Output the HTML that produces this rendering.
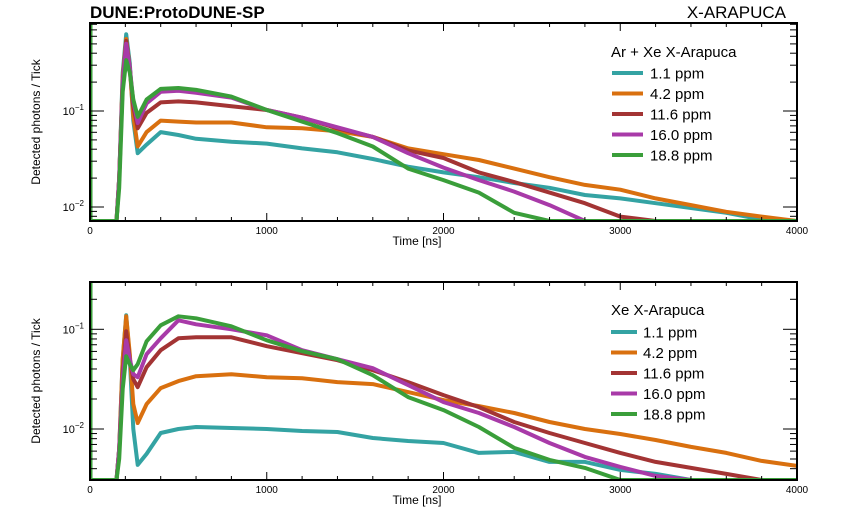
<!DOCTYPE html>
<html><head><meta charset="utf-8"><style>
body{margin:0;background:#fff;width:847px;height:517px;overflow:hidden}
svg{font-family:"Liberation Sans",sans-serif}
</style></head><body>
<svg id="c" width="847" height="517" viewBox="0 0 847 517"></svg>
<script>
const times = [0,150,165,185,205,225,245,270,320,400,500,600,800,1000,1200,1400,1600,1800,2000,2200,2400,2600,2800,3000,3200,3400,3600,3800,4000];
const seriesNames = ["1.1 ppm","4.2 ppm","11.6 ppm","16.0 ppm","18.8 ppm"];
const colors = ["#34a3a3","#d9700f","#a33434","#a83aa8","#3a9e3a"];
// log10 values, top panel (Ar + Xe)
const topTeal    = [-3,-3,-1.7,-0.6,-0.2,-0.5,-1.1,-1.44,-1.35,-1.22,-1.25,-1.29,-1.32,-1.34,-1.39,-1.43,-1.50,-1.58,-1.64,-1.69,-1.75,-1.80,-1.875,-1.91,-1.96,-2.01,-2.06,-2.13,-2.2];
const topOrange  = [-3,-3,-1.7,-0.65,-0.25,-0.55,-1.05,-1.37,-1.22,-1.10,-1.11,-1.12,-1.12,-1.17,-1.18,-1.21,-1.27,-1.39,-1.45,-1.51,-1.60,-1.69,-1.77,-1.82,-1.91,-1.98,-2.05,-2.10,-2.15];
const topBrown   = [-3,-3,-1.7,-0.7,-0.27,-0.55,-0.95,-1.18,-1.02,-0.91,-0.90,-0.91,-0.95,-0.99,-1.07,-1.18,-1.27,-1.41,-1.49,-1.64,-1.74,-1.85,-1.96,-2.10,-2.2,-2.3,-2.4,-2.5,-2.6];
const topMagenta = [-3,-3,-1.7,-0.7,-0.3,-0.55,-0.9,-1.125,-0.92,-0.80,-0.79,-0.81,-0.86,-0.99,-1.07,-1.17,-1.27,-1.44,-1.59,-1.72,-1.84,-1.98,-2.2,-2.4,-2.5,-2.6,-2.7,-2.8,-2.9];
const topGreen   = [-3,-3,-1.8,-0.8,-0.47,-0.6,-0.88,-1.06,-0.88,-0.77,-0.76,-0.78,-0.85,-0.99,-1.11,-1.23,-1.37,-1.60,-1.72,-1.85,-2.06,-2.3,-2.4,-2.5,-2.6,-2.7,-2.8,-2.9,-3];
// log10 values, bottom panel (Xe)
const botTeal    = [-3,-3,-2.2,-1.3,-0.86,-1.3,-2.0,-2.36,-2.25,-2.04,-2.00,-1.98,-1.99,-2.00,-2.02,-2.03,-2.09,-2.12,-2.14,-2.24,-2.23,-2.33,-2.33,-2.41,-2.45,-2.6,-2.7,-2.8,-2.9];
const botOrange  = [-3,-3,-2.2,-1.3,-0.87,-1.25,-1.75,-1.94,-1.75,-1.59,-1.52,-1.47,-1.45,-1.48,-1.49,-1.53,-1.55,-1.63,-1.71,-1.77,-1.84,-1.93,-2.00,-2.05,-2.11,-2.18,-2.24,-2.32,-2.37];
const botBrown   = [-3,-3,-2.2,-1.45,-1.02,-1.3,-1.5,-1.58,-1.38,-1.21,-1.09,-1.08,-1.08,-1.17,-1.24,-1.31,-1.41,-1.53,-1.66,-1.78,-1.93,-2.04,-2.14,-2.24,-2.33,-2.39,-2.45,-2.6,-2.7];
const botMagenta = [-3,-3,-2.2,-1.5,-1.11,-1.3,-1.45,-1.48,-1.25,-1.09,-0.91,-0.95,-1.00,-1.06,-1.21,-1.30,-1.39,-1.56,-1.73,-1.84,-1.98,-2.14,-2.28,-2.38,-2.47,-2.6,-2.7,-2.8,-2.9];
const botGreen   = [-3,-3,-2.3,-1.6,-1.27,-1.35,-1.41,-1.35,-1.12,-0.96,-0.87,-0.89,-0.97,-1.11,-1.22,-1.30,-1.46,-1.68,-1.81,-1.98,-2.19,-2.31,-2.39,-2.6,-2.7,-2.8,-2.9,-3,-3];
const xTicks = [0,1000,2000,3000,4000];
const legendTitles = ["Ar + Xe X-Arapuca","Xe X-Arapuca"];

const NS="http://www.w3.org/2000/svg";
const svg=document.getElementById('c');
function mk(tag,attrs,parent){const e=document.createElementNS(NS,tag);for(const k in attrs)e.setAttribute(k,attrs[k]);(parent||svg).appendChild(e);return e;}

const X0=90,X1=797;
function xs(t){return X0+(X1-X0)*t/4000;}

const panels=[
 {top:23,bot:221,yref:111,dec:96,data:[topTeal,topOrange,topBrown,topMagenta,topGreen],name:"top-panel",leg:{x:611,ty:57,y0:73,lx0:612,lx1:643,tx:650}},
 {top:282,bot:480,yref:329.3,dec:99.7,data:[botTeal,botOrange,botBrown,botMagenta,botGreen],name:"bottom-panel",leg:{x:611,ty:315,y0:332,lx0:611,lx1:637,tx:643}}
];

panels.forEach((p,pi)=>{
  const g=mk('g',{});
  
  
  const ys=lv=>Math.min(p.bot,Math.max(p.top,p.yref-p.dec*(lv+1)));
  const clip=mk('clipPath',{id:'clip'+pi},g);
  mk('rect',{x:X0,y:p.top,width:X1-X0,height:p.bot-p.top},clip);
  p.data.forEach((arr,si)=>{
    const pts=arr.map((v,i)=>xs(times[i]).toFixed(1)+','+ys(v).toFixed(1)).join(' ');
    const pl=mk('polyline',{points:pts,fill:'none',stroke:colors[si],'stroke-width':4,'stroke-linejoin':'round','clip-path':'url(#clip'+pi+')'},g);
    
    
  });
  mk('line',{x1:X0+1,y1:p.top,x2:X0+1,y2:p.bot,stroke:colors[4],'stroke-width':3},g);
  const fr=mk('rect',{x:X0,y:p.top,width:X1-X0,height:p.bot-p.top,fill:'none',stroke:'#000','stroke-width':2},g);
  
  
  for(let t=0;t<=4000;t+=200){
    const len=t%1000===0?8:4;const x=xs(t);
    mk('line',{x1:x,y1:p.bot,x2:x,y2:p.bot-len,stroke:'#000','stroke-width':1},g);
    mk('line',{x1:x,y1:p.top,x2:x,y2:p.top+len,stroke:'#000','stroke-width':1},g);
  }
  xTicks.forEach(t=>{
    const tx=mk('text',{x:xs(t),y:p.bot+13,'font-size':10,'text-anchor':'middle'},g);
    tx.textContent=t;
    
    
  });
  const xt=mk('text',{x:417,y:p.bot+24,'font-size':12,'text-anchor':'middle'},g);
  xt.textContent='Time [ns]';
  
  
  for(let d=-3;d<=0;d++){
    for(let m=1;m<=9;m++){
      const lv=d+Math.log10(m);const y=p.yref-p.dec*(lv+1);
      if(y<p.top||y>p.bot)continue;
      const len=m===1?14:7;
      mk('line',{x1:X0,y1:y,x2:X0+len,y2:y,stroke:'#000','stroke-width':1},g);
      mk('line',{x1:X1,y1:y,x2:X1-len,y2:y,stroke:'#000','stroke-width':1},g);
      if(m===1){
        const tl=mk('text',{x:X0-6,y:y+4,'font-size':11,'text-anchor':'end'},g);
        tl.textContent='10';
        const sp=mk('tspan',{dy:-5,'font-size':8},tl);sp.textContent='\u2212'+(-d);
        
        
      }
    }
  }
  const cy=(p.top+p.bot)/2;
  const yt=mk('text',{x:40,y:cy,'font-size':12,'text-anchor':'middle',transform:'rotate(-90 40 '+cy+')'},g);
  yt.textContent='Detected photons / Tick';
  
  
  const lg=mk('g',{},g);
  
  
  const lt=mk('text',{x:p.leg.x,y:p.leg.ty,'font-size':15},lg);
  lt.textContent=legendTitles[pi];
  seriesNames.forEach((n,si)=>{
    const y=p.leg.y0+si*20.5;
    const e=mk('g',{},lg);
    
    
    mk('line',{x1:p.leg.lx0,y1:y,x2:p.leg.lx1,y2:y,stroke:colors[si],'stroke-width':4},e);
    const t=mk('text',{x:p.leg.tx,y:y+5.5,'font-size':15},e);t.textContent=n;
  });
});
const t1=mk('text',{x:90,y:18,'font-size':17,'font-weight':'bold'});
t1.textContent='DUNE:ProtoDUNE-SP';


const t2=mk('text',{x:786,y:18,'font-size':17,'text-anchor':'end'});
t2.textContent='X-ARAPUCA';


</script>
</body></html>
